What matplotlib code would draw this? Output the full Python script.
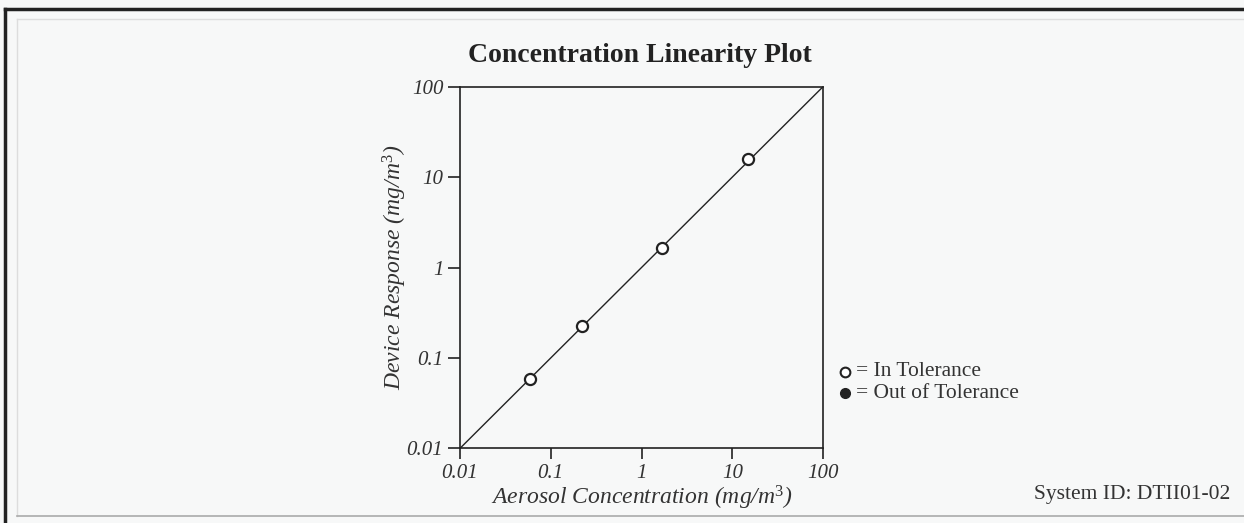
import matplotlib
matplotlib.use("Agg")
import matplotlib.pyplot as plt
from matplotlib.lines import Line2D

# Data
aerosol_conc = [0.059, 0.223, 1.68, 15.0]
device_resp = [0.059, 0.224, 1.66, 15.8]
ref_line = [0.01, 100]
tick_vals = [0.01, 0.1, 1, 10, 100]
tick_labels = ["0.01", "0.1", "1", "10", "100"]

plt.rcParams['font.family'] = ['Liberation Serif', 'DejaVu Serif']
plt.rcParams['mathtext.fontset'] = 'custom'
plt.rcParams['mathtext.rm'] = 'Liberation Serif'
plt.rcParams['mathtext.it'] = 'Liberation Serif:italic'
plt.rcParams['mathtext.bf'] = 'Liberation Serif:bold'

fig = plt.figure(figsize=(12.44, 5.23), dpi=100)
bg = '#f7f8f8'
fig.patch.set_facecolor(bg)

ax = fig.add_axes([0.3698, 0.1428, 0.2918, 0.6914])
ax.set_facecolor(bg)
ax.set_xscale('log')
ax.set_yscale('log')
ax.set_xlim(0.01, 100)
ax.set_ylim(0.01, 100)

ax.plot(ref_line, ref_line, color='#222222', lw=1.0, zorder=2)
ax.plot(aerosol_conc, device_resp, linestyle='none', marker='o', markersize=8,
        markerfacecolor='white', markeredgecolor='#222222', markeredgewidth=1.6, zorder=3)

ax.set_xticks(tick_vals)
ax.set_xticklabels(tick_labels, fontstyle='italic', fontsize=15, color='#333333')
ax.set_yticks(tick_vals)
ax.set_yticklabels(tick_labels, fontstyle='italic', fontsize=15, color='#333333')
ax.minorticks_off()
ax.tick_params(axis='x', which='major', direction='out', length=8, width=1.2,
               color='#222222', pad=3)
ax.tick_params(axis='y', which='major', direction='out', length=9, width=1.2,
               color='#222222', pad=3)
for s in ax.spines.values():
    s.set_linewidth(1.2)
    s.set_color('#222222')

ax.set_xlabel("Aerosol Concentration (mg/m$^{3}$)", fontstyle='italic', fontsize=17,
              color='#333333', labelpad=1)
ax.set_ylabel("Device Response (mg/m$^{3}$)", fontstyle='italic', fontsize=17,
              color='#333333', labelpad=-2)

fig.text(0.5145, 1 - 55 / 523, "Concentration Linearity Plot", ha='center', va='center',
         fontsize=20, fontweight='bold', color='#222222')

# Legend symbols
fig.add_artist(Line2D([845 / 1244], [1 - 372 / 523], marker='o', markersize=7,
                      markerfacecolor='white', markeredgecolor='#222222',
                      markeredgewidth=1.5, linestyle='none'))
fig.add_artist(Line2D([845 / 1244], [1 - 393 / 523], marker='o', markersize=7,
                      markerfacecolor='#222222', markeredgecolor='#222222',
                      linestyle='none'))
fig.text(856 / 1244, 1 - 372 / 523, "= In Tolerance", ha='left', va='center',
         fontsize=15.5, color='#333333')
fig.text(856 / 1244, 1 - 393 / 523, "= Out of Tolerance", ha='left', va='center',
         fontsize=15.5, color='#333333')

fig.text(1230 / 1244, 1 - 494 / 523, "System ID: DTII01-02", ha='right', va='center',
         fontsize=15.5, color='#333333')

# Frame lines
fig.add_artist(Line2D([5 / 1244, 1], [1 - 9 / 523, 1 - 9 / 523], color='#222222', lw=2.5))
fig.add_artist(Line2D([5 / 1244, 5 / 1244], [0, 1 - 9 / 523], color='#222222', lw=2.5))
fig.add_artist(Line2D([17 / 1244, 1], [1 - 19 / 523, 1 - 19 / 523], color='#dddddd', lw=1))
fig.add_artist(Line2D([17 / 1244, 17 / 1244], [1 - 516 / 523, 1 - 19 / 523], color='#dddddd', lw=1))
fig.add_artist(Line2D([17 / 1244, 1], [1 - 516 / 523, 1 - 516 / 523], color='#aaaaaa', lw=1.2))

fig.savefig("out.png", dpi=100, facecolor=bg)
